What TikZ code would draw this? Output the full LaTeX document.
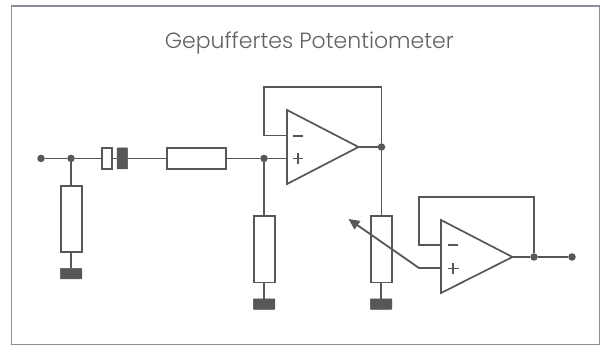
\documentclass[tikz,border=0pt]{standalone}
\usepackage{fontspec}
\setmainfont{Poppins}[UprightFont={* Light},Ligatures=CommonOff]
\usetikzlibrary{arrows.meta}
\definecolor{ink}{HTML}{575757}
\definecolor{titlec}{HTML}{626262}
\definecolor{framec}{HTML}{8B8E96}
\tikzset{
  x=1pt,y=-1pt,
  wire/.style={draw=ink,line width=1.8pt},
  vres/.style={draw=ink,fill=white,line width=1.7pt,minimum width=21pt,minimum height=66.5pt,inner sep=0pt,outer sep=0pt},
  hres/.style={draw=ink,fill=white,line width=1.7pt,minimum width=59pt,minimum height=21pt,inner sep=0pt,outer sep=0pt},
  gnd/.style={fill=ink,draw=ink,line width=.5pt,rounded corners=.5pt,minimum width=21.5pt,minimum height=10.5pt,inner sep=0pt,outer sep=0pt},
  capw/.style={draw=ink,fill=white,line width=1.7pt,minimum width=10pt,minimum height=21pt,inner sep=0pt,outer sep=0pt},
  capf/.style={draw=ink,fill=ink,line width=.5pt,rounded corners=.5pt,minimum width=10.5pt,minimum height=21pt,inner sep=0pt,outer sep=0pt},
  dot/.style={circle,fill=ink,minimum size=7.5pt,inner sep=0pt,outer sep=0pt},
  opamp/.style={draw=ink,fill=white,line width=1.7pt,line join=miter},
  signline/.style={draw=ink,line width=1.3pt}
}
\begin{document}
\begin{tikzpicture}
\useasboundingbox (0,0) rectangle (600,345);
\fill[white] (0,0) rectangle (600,345);
\draw[framec,line width=1.6pt] (11.5,5.8) rectangle (599.3,344.3);
\node[text=titlec,font=\fontsize{22}{28}\selectfont,anchor=base,inner sep=0pt] (title) at (309.4,48.5) {Gepuffertes Potentiometer};

% dots
\node[dot] (in) at (41,158.4) {};
\node[dot] (n1) at (71,158.4) {};
\node[dot] (n2) at (264,158.4) {};
\node[dot] (n3) at (381.5,147) {};
\node[dot] (n4) at (534,257) {};
\node[dot] (out) at (572,257) {};

% op-amp pins
\coordinate (a1top) at (287,110);
\coordinate (a1bot) at (287,184);
\coordinate (a1tip) at (358.5,147);
\coordinate (a1m) at (287,135.5);
\coordinate (a1p) at (287,158.4);
\coordinate (a2top) at (441,220);
\coordinate (a2bot) at (441,293);
\coordinate (a2tip) at (512.5,257);
\coordinate (a2m) at (441,245);
\coordinate (a2p) at (441,268);
\coordinate (wiper) at (419,268);
\coordinate (wtip) at (348.5,219);

% components
\node[vres] (r1) at (71.2,219) {};
\node[gnd] (g1) at (71,273.5) {};
\node[capw] (c1) at (107.3,158.4) {};
\node[capf] (c2) at (122.25,158.4) {};
\node[hres] (r2) at (196.2,158.4) {};
\node[vres] (r3) at (264.2,249.2) {};
\node[gnd] (g3) at (264,304) {};
\node[vres] (r4) at (381.2,249.2) {};
\node[gnd] (g4) at (381,304) {};

% wires
\draw[wire] (in) -- (n1) -- (c1.west);
\draw[wire] (c1.east) -- (c2.west);
\draw[wire] (c2.east) -- (r2.west);
\draw[wire] (r2.east) -- (n2) -- (a1p);
\draw[wire] (n1) -- (r1.north-|n1);
\draw[wire] (r1.south-|g1) -- (g1.north);
\draw[wire] (n2) -- (r3.north-|n2);
\draw[wire] (r3.south-|g3) -- (g3.north);
\draw[wire] (n3) -- (r4.north-|n3);
\draw[wire] (r4.south-|g4) -- (g4.north);
\draw[wire] (a1m) -- (264,135.5) -- (264,87) -- (381.5,87) -- (n3);
\draw[wire] (a1tip) -- (n3);
\draw[wire] (a2m) -- (419,245) -- (419,197) -- (534,197) -- (n4);
\draw[wire] (a2tip) -- (n4) -- (out);

% op-amps
\draw[opamp] (a1top) -- (a1tip) -- (a1bot) -- cycle;
\draw[opamp] (a2top) -- (a2tip) -- (a2bot) -- cycle;

% signs
\draw[signline] (293,136) -- (303,136);
\draw[signline] (293,158.5) -- (303,158.5) (298,153) -- (298,164);
\draw[signline] (448,245) -- (458,245);
\draw[signline] (447.5,268.5) -- (458.5,268.5) (453,263) -- (453,274);

% wiper
\draw[wire,-{Triangle[length=11pt,width=10pt]}] (a2p) -- (wiper) -- (wtip);
\end{tikzpicture}
\end{document}
